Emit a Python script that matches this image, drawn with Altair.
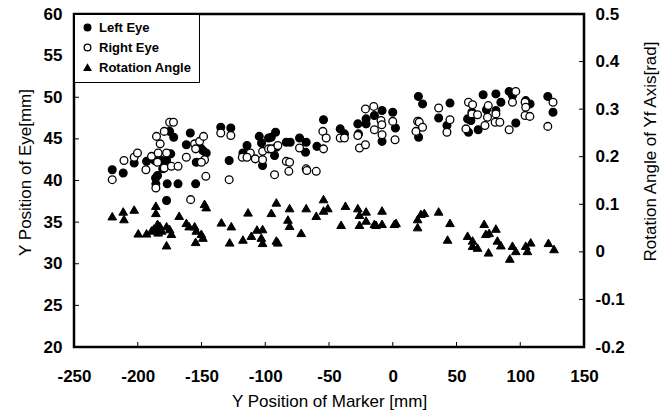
import altair as alt
import pandas as pd

# ---------------- data ----------------
left_x = [-220, -211.4, -202.8, -193.1, -186.6, -186.0, -185.8, -184.5, -175.0, -171.8,
          -174.1, -181.3, -177.4, -180.4, -176.9, -168.4, -177.4, -161.9, -158.8, -150.7,
          -148.9, -146.3, -154.1, -154.6, -128.3, -134.9, -127.0, -114.3, -117.5, -102.9,
          -102.1, -104.7, -97.4,
          -95.3, -91.9, -91.3, -92.7, -83.5, -80.4, -73.1, -67.9, -68.4, -59.5,
          -54.3, -41.2, -37.9, -27.4, -26.9, -20.9, -20.9, -14.4, -8.4, -8.4, 0.0, 2.1,
          20.1, 23.4, 20.1, 20.3, 36.0, 44.9, 42.5, 58.7, 61.3, 62.1, 59.4, 67.0,
          70.9, 80.9, 84.8, 73.5, 80.9, 91.3, 93.9, 96.5, 104.3, 107.7, 121.6, 125.7]
left_y = [41.3, 40.9, 42.1, 42.3, 42.4, 40.3, 39.6, 40.6, 45.9, 45.2,
          43.2, 42.4, 42.4, 41.4, 39.6, 39.6, 37.6, 44.3, 45.7, 43.9,
          43.6, 43.3, 42.2, 39.6, 42.4, 46.4, 46.3, 44.2, 43.3, 44.5,
          41.8, 45.3, 45.1,
          45.2, 45.8, 44.0, 43.0, 44.6, 44.6, 45.1, 44.6, 43.4, 44.1,
          47.3, 46.2, 45.6, 46.8, 45.6, 47.4, 46.8, 47.8, 48.4, 44.7, 48.2, 46.3,
          50.1, 49.2, 47.1, 45.2, 47.5, 49.3, 46.6, 47.4, 47.2, 48.2, 45.8, 46.1,
          50.3, 50.4, 49.4, 48.5, 48.4, 50.7, 50.2, 46.9, 49.6, 49.2, 50.1, 48.2]

right_x = [-220, -210.8, -202.8, -200.2, -193.6, -189.2, -185.3, -182.4, -185.8, -179.2,
           -175.0, -172.0, -184.0, -177.4, -184.5, -179.2, -173.6, -168.4, -161.9, -155.4,
           -154.6, -151.5, -148.4, -147.6, -150.1, -146.6, -128.3, -134.9, -127.0, -118.0,
           -111.7, -114.3, -107.8, -102.1, -102.1, -97.4, -158.5,
           -95.3, -90.1, -92.7, -83.5, -80.9, -81.5, -73.1, -67.9, -67.4, -60.0,
           -54.3, -54.8, -52.2, -41.2, -37.9, -27.4, -26.1, -21.4, -21.4, -14.9,
           -9.2, -8.6, -14.4, -8.4, 0.0, 1.8,
           19.5, 20.8, 18.2, 23.4, 36.0, 44.9, 42.5, 59.4, 62.6, 62.1, 66.5, 57.4,
           72.3, 74.9, 74.3, 80.9, 80.3, 84.0, 96.5, 93.9, 91.3, 103.8, 104.3, 103.8,
           107.5, 125.7, 121.6]
right_y = [40.1, 42.4, 42.8, 43.3, 41.3, 42.9, 45.3, 44.4, 39.1, 45.9,
           47.0, 47.0, 43.3, 43.3, 42.2, 41.5, 41.7, 41.7, 42.8, 44.4,
           43.8, 44.7, 45.3, 42.5, 42.2, 40.5, 40.1, 45.7, 45.4, 42.8,
           43.3, 42.8, 42.6, 43.5, 42.5, 43.8, 37.7,
           43.8, 44.2, 40.7, 42.3, 42.2, 41.1, 43.9, 41.4, 41.2, 41.1,
           43.8, 45.9, 45.1, 45.1, 45.1, 45.4, 43.9, 44.3, 48.6, 48.9,
           47.2, 46.7, 46.1, 45.5, 47.1, 44.9,
           47.1, 47.0, 45.9, 46.4, 48.7, 47.3, 45.8, 49.4, 49.1, 48.0, 47.9, 46.2,
           46.6, 49.0, 47.6, 48.0, 47.0, 47.0, 50.7, 49.4, 46.1, 49.4, 48.8, 47.8,
           47.7, 49.4, 46.5]

rot_x = [-220, -211.4, -210.8, -202.8, -185.8, -185.8, -184.5, -182.7, -187.4, -184.0,
         -181.3, -177.4, -175.0, -177.4, -173.6, -167.5, -161.9, -159.7, -155.4, -154.1,
         -150.1, -154.6, -148.9, -147.6, -146.3, -199.6, -193.1, -189.2, -134.4, -126.6,
         -113.5, -127.9, -117.5, -110.9, -106.5, -102.1, -103.1, -102.1, -91.3, -90.1,
         -95.2, -91.3, -80.9, -82.2, -80.9,
         -71.8, -67.9, -60.0, -54.3, -54.3, -50.9, -40.5, -37.1, -27.4, -26.1,
         -26.1, -20.9, -20.9, -14.4, -13.1, -8.4, -8.4, 1.3, 2.6, 19.5,
         19.5, 22.1, 24.8, 36.0, 44.9, 43.0, 58.7, 62.6, 62.6, 66.5,
         71.7, 73.0, 75.6, 75.1, 80.9, 82.1, 84.8, 93.9, 96.5, 91.8,
         104.3, 105.6, 108.2, 122.1, 126.5]
rot_y = [0.075, 0.085, 0.069, 0.089, 0.097, 0.082, 0.059, 0.055, 0.049, 0.041,
         0.045, 0.054, 0.048, 0.014, 0.038, 0.076, 0.061, 0.054, 0.054, 0.045,
         0.038, 0.021, 0.030, 0.101, 0.094, 0.039, 0.039, 0.045, 0.062, 0.054,
         0.083, 0.020, 0.026, 0.034, 0.047, 0.048, 0.030, 0.019, 0.024, 0.020,
         0.082, 0.104, 0.092, 0.068, 0.055,
         0.040, 0.092, 0.076, 0.111, 0.087, 0.092, 0.057, 0.097, 0.092, 0.078,
         0.057, 0.085, 0.066, 0.059, 0.057, 0.087, 0.059, 0.059, 0.061, 0.052,
         0.069, 0.080, 0.082, 0.085, 0.061, 0.026, 0.034, 0.024, 0.013, 0.009,
         0.059, 0.038, 0.040, -0.001, 0.049, 0.024, 0.014, 0.013, 0.002, -0.014,
         0.013, 0.002, 0.020, 0.019, 0.006]

series_names = ["Left Eye", "Right Eye", "Rotation Angle"]
x_ticks = [-250, -200, -150, -100, -50, 0, 50, 100, 150]
left_ticks = [20, 25, 30, 35, 40, 45, 50, 55, 60]
right_ticks = [-0.2, -0.1, 0, 0.1, 0.2, 0.3, 0.4, 0.5]

# ---------------- tables ----------------
eye_df = pd.DataFrame({
    "x": left_x + right_x,
    "y": left_y + right_y,
    "series": [series_names[0]] * len(left_x) + [series_names[1]] * len(right_x),
})
rot_df = pd.DataFrame({"x": rot_x, "r": rot_y, "series": series_names[2]})
lt_df = pd.DataFrame({"y": left_ticks[1:-1]})
rt_df = pd.DataFrame({"r": right_ticks[1:-1]})
xt_df = pd.DataFrame({"x": x_ticks[1:-1]})

W, H = 510, 333
FONT = "Liberation Sans"

x_scale = alt.Scale(domain=[-250, 150], nice=False, zero=False)
yl_scale = alt.Scale(domain=[20, 60], nice=False, zero=False)
yr_scale = alt.Scale(domain=[-0.2, 0.5], nice=False, zero=False)
shape_scale = alt.Scale(domain=series_names, range=["circle", "circle", "triangle-up"])
fill_scale = alt.Scale(domain=series_names, range=["black", "white", "black"])

legend = alt.Legend(
    title=None, orient="top-left", offset=0, padding=7, rowPadding=6,
    strokeColor="black", fillColor="white", symbolSize=45, symbolStrokeWidth=1.3,
    labelFontSize=13, labelFontWeight="bold", labelFont=FONT, labelColor="black",
    labelOffset=5,
)

x_axis = alt.Axis(
    values=x_ticks, title="Y Position of Marker [mm]", labelExpr="'' + datum.value",
    labelPadding=21, titleY=54, titleBaseline="middle")
yl_axis = alt.Axis(
    values=left_ticks, orient="left", title="Y Position of Eye[mm]",
    labelExpr="'' + datum.value", labelPadding=12,
    titleAngle=270, titleX=-49, titleY=158, titleBaseline="middle", titleAlign="center")
yr_axis = alt.Axis(
    values=right_ticks, orient="right", title="Rotation Angle of Yf Axis[rad]",
    labelExpr="'' + datum.value", labelPadding=11,
    titleAngle=270, titleX=66, titleY=137, titleBaseline="middle", titleAlign="center")

eyes = alt.Chart(eye_df).mark_point(
    filled=True, stroke="black", strokeWidth=1.3, opacity=1, size=60
).encode(
    x=alt.X("x:Q", scale=x_scale, axis=x_axis),
    y=alt.Y("y:Q", scale=yl_scale, axis=yl_axis),
    shape=alt.Shape("series:N", scale=shape_scale, legend=legend),
    fill=alt.Fill("series:N", scale=fill_scale, legend=legend),
)

lticks = alt.Chart(lt_df).mark_rule(color="black", strokeWidth=1).encode(
    y=alt.Y("y:Q", scale=yl_scale, axis=yl_axis),
    x=alt.value(0), x2=alt.value(5),
)
xticks = alt.Chart(xt_df).mark_rule(color="black", strokeWidth=1).encode(
    x=alt.X("x:Q", scale=x_scale, axis=x_axis),
    y=alt.value(H), y2=alt.value(H - 5),
)

rot = alt.Chart(rot_df).mark_point(
    filled=True, stroke="black", strokeWidth=1, opacity=1, size=75
).encode(
    x=alt.X("x:Q", scale=x_scale, axis=x_axis),
    y=alt.Y("r:Q", scale=yr_scale, axis=yr_axis),
    shape=alt.Shape("series:N", scale=shape_scale, legend=legend),
    fill=alt.Fill("series:N", scale=fill_scale, legend=legend),
)
rticks = alt.Chart(rt_df).mark_rule(color="black", strokeWidth=1).encode(
    y=alt.Y("r:Q", scale=yr_scale, axis=yr_axis),
    x=alt.value(W), x2=alt.value(W - 5),
)

left_group = alt.layer(eyes, lticks, xticks)
right_group = alt.layer(rot, rticks)

chart = alt.layer(left_group, right_group).resolve_scale(
    y="independent"
).properties(
    width=W, height=H,
    autosize=alt.AutoSizeParams(type="none"),
    padding={"left": 74, "top": 14, "right": 669 - 74 - W, "bottom": 412 - 14 - H},
    background="white",
).configure_view(
    stroke="black", strokeWidth=2.5
).configure_axis(
    grid=False, domain=False, ticks=False, labelFlush=False, labelOverlap=False,
    labelFont=FONT, titleFont=FONT, labelFontSize=17, labelFontWeight="bold",
    titleFontSize=17, titleFontWeight="normal", labelColor="black", titleColor="black",
)

chart.save("out.html", embed_options={"renderer": "svg", "actions": False})
